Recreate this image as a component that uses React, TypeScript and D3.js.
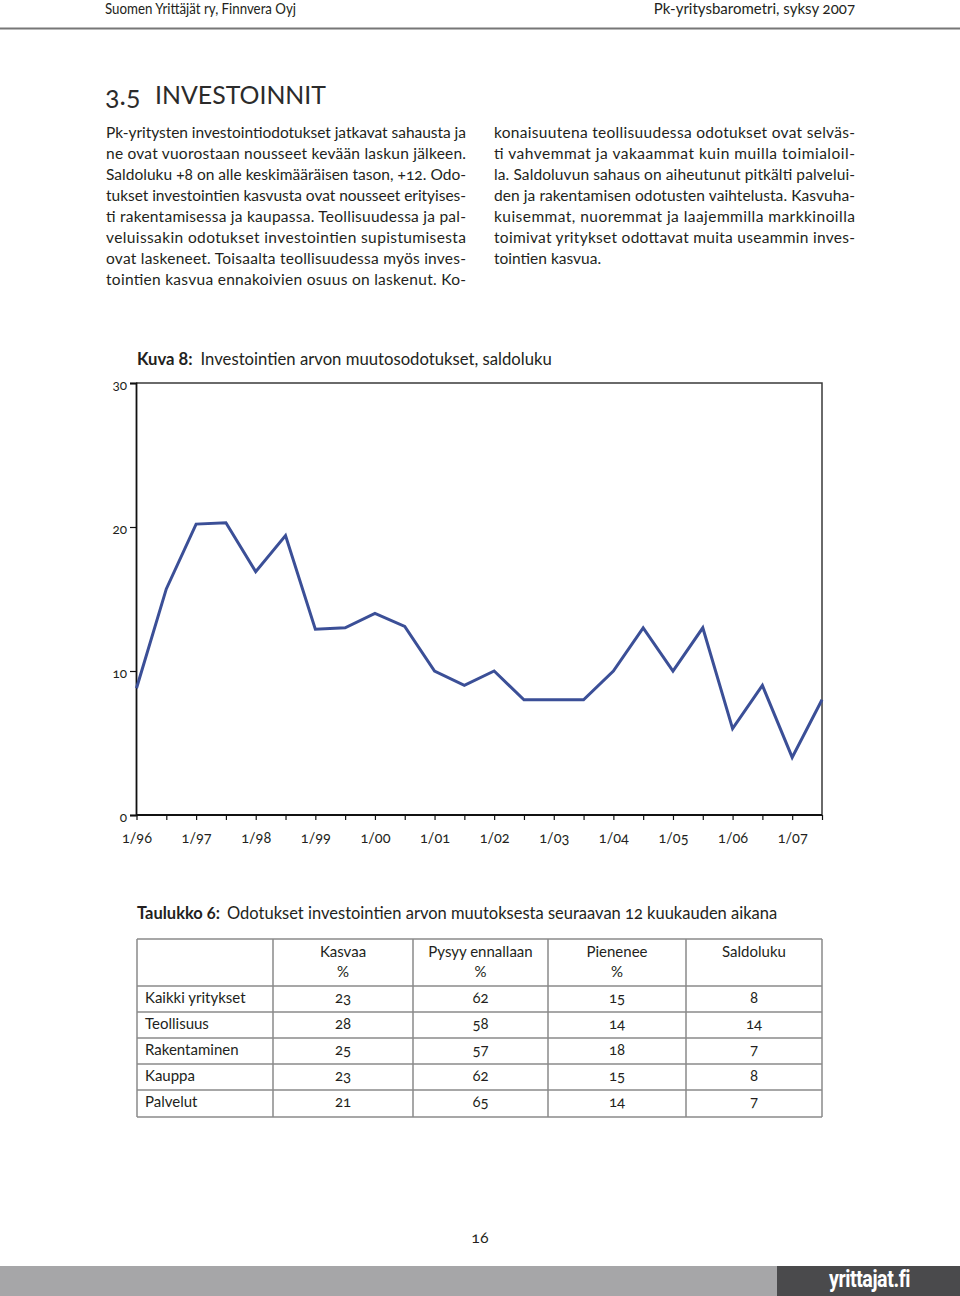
import { useEffect, useRef } from 'react'
import * as d3 from 'd3'

// Kuva 8 – saldoluku, puolivuosittain
const periods = [
  '1/96', '2/96', '1/97', '2/97', '1/98', '2/98', '1/99', '2/99',
  '1/00', '2/00', '1/01', '2/01', '1/02', '2/02', '1/03', '2/03',
  '1/04', '2/04', '1/05', '2/05', '1/06', '2/06', '1/07', '2/07',
]
const saldo = [
  8.8, 15.7, 20.2, 20.3, 16.9, 19.4, 12.9, 13.0,
  14.0, 13.1, 10.0, 9.0, 10.0, 8.0, 8.0, 8.0,
  10.0, 13.0, 10.0, 13.0, 6.0, 9.0, 4.0, 8.0,
]
const yTicks = [0, 10, 20, 30]

// Taulukko 6
const tableHeaders = [['Kasvaa', '%'], ['Pysyy ennallaan', '%'], ['Pienenee', '%'], ['Saldoluku']]
const rowLabels = ['Kaikki yritykset', 'Teollisuus', 'Rakentaminen', 'Kauppa', 'Palvelut']
const kasvaa = [23, 28, 25, 23, 21]
const pysyy = [62, 58, 57, 62, 65]
const pienenee = [15, 14, 18, 15, 14]
const saldoluku = [8, 14, 7, 8, 7]

const leftLines = [
  'Pk-yritysten investointiodotukset jatkavat sahausta ja',
  'ne ovat vuorostaan nousseet kevään laskun jälkeen.',
  'Saldoluku +8 on alle keskimääräisen tason, +12. Odo-',
  'tukset investointien kasvusta ovat nousseet erityises-',
  'ti rakentamisessa ja kaupassa. Teollisuudessa ja pal-',
  'veluissakin odotukset investointien supistumisesta',
  'ovat laskeneet. Toisaalta teollisuudessa myös inves-',
  'tointien kasvua ennakoivien osuus on laskenut. Ko-',
]
const rightLines = [
  'konaisuutena teollisuudessa odotukset ovat selväs-',
  'ti vahvemmat ja vakaammat kuin muilla toimialoil-',
  'la. Saldoluvun sahaus on aiheutunut pitkälti palvelui-',
  'den ja rakentamisen odotusten vaihtelusta. Kasvuha-',
  'kuisemmat, nuoremmat ja laajemmilla markkinoilla',
  'toimivat yritykset odottavat muita useammin inves-',
  'tointien kasvua.',
]

const FONT = 'Lato, "Open Sans", "DejaVu Sans", sans-serif'
const TEXT = '#231f20'

export default function App() {
  const chartRef = useRef<SVGGElement>(null)

  const plotLeft = 136
  const plotRight = 822
  const plotTop = 383
  const plotBottom = 815

  useEffect(() => {
    if (!chartRef.current) return
    const g = d3.select(chartRef.current)
    g.selectAll('*').remove()

    const x = d3.scalePoint(periods, [plotLeft + 0.5, plotRight])
    const y = d3.scaleLinear([0, 30], [plotBottom, plotTop])

    // frame top + right
    g.append('path')
      .attr('d', `M${plotLeft},${plotTop}H${plotRight}V${plotBottom}`)
      .attr('fill', 'none')
      .attr('stroke', '#3a3a3a')
      .attr('stroke-width', 1.5)

    // y axis
    const yAxis = d3.axisLeft(y).tickValues(yTicks).tickSize(6).tickPadding(3)
    const ya = g.append('g').attr('transform', `translate(${plotLeft},0)`).call(yAxis)
    ya.select('.domain').attr('stroke', '#111').attr('stroke-width', 1.8)
    ya.selectAll('line').attr('stroke', '#111').attr('stroke-width', 1.2)
    ya.selectAll('text')
      .attr('font-family', FONT)
      .attr('font-size', 13.5)
      .attr('fill', TEXT)
      .attr('dy', '0.45em')
      .style('font-variant-numeric', 'oldstyle-nums')

    // x axis
    const xAxis = d3
      .axisBottom(x)
      .tickSize(5)
      .tickPadding(13)
      .tickFormat((d) => (d.startsWith('1/') ? d : ''))
    const xa = g.append('g').attr('transform', `translate(0,${plotBottom})`).call(xAxis)
    xa.select('.domain')
      .attr('d', `M${plotLeft},0H${plotRight}`)
      .attr('stroke', '#111')
      .attr('stroke-width', 1.8)
    xa.selectAll('line').attr('stroke', '#111').attr('stroke-width', 1.2)
    xa.selectAll('text')
      .attr('font-family', FONT)
      .attr('font-size', 14.5)
      .attr('fill', TEXT)
      .style('font-variant-numeric', 'oldstyle-nums')

    // series
    const line = d3
      .line<number>()
      .x((_, i) => x(periods[i]) ?? 0)
      .y((d) => y(d))
    g.append('path')
      .datum(saldo)
      .attr('d', line)
      .attr('fill', 'none')
      .attr('stroke', '#3b4f97')
      .attr('stroke-width', 3)
      .attr('stroke-linejoin', 'miter')
  }, [])

  const colX = [137, 273, 413, 548, 686, 822]
  const rowY = [939, 986, 1012, 1038, 1064, 1090, 1117]
  const cols = [kasvaa, pysyy, pienenee, saldoluku]

  return (
    <svg
      width={960}
      height={1296}
      style={{ position: 'absolute', left: 0, top: 0, background: '#fff' }}
      fontFamily={FONT}
    >
      {/* header */}
      <text x={105} y={14} fontSize={15} fill={TEXT} textLength={191} lengthAdjust="spacingAndGlyphs">
        Suomen Yrittäjät ry, Finnvera Oyj
      </text>
      <text x={855} y={14} fontSize={15} fill={TEXT} textAnchor="end" style={{ fontVariantNumeric: 'oldstyle-nums' }}>
        Pk-yritysbarometri, syksy 2007
      </text>
      <line x1={0} x2={960} y1={28.5} y2={28.5} stroke="#777" strokeWidth={2} />

      {/* section title */}
      <text x={105} y={105} fontSize={27} fill="#2b2b2b" style={{ fontVariantNumeric: 'oldstyle-nums' }}>
        3.5
      </text>
      <text x={155} y={104} fontSize={25} fill="#2b2b2b" textLength={171} lengthAdjust="spacingAndGlyphs">
        INVESTOINNIT
      </text>

      {leftLines.map((t, i) => (
        <text
          key={'l' + i}
          x={106}
          y={138 + i * 21}
          fontSize={15.5}
          fill={TEXT}
          textLength={360}
          lengthAdjust="spacing"
          style={{ fontVariantNumeric: 'oldstyle-nums' }}
        >
          {t}
        </text>
      ))}
      {rightLines.map((t, i) => (
        <text
          key={'r' + i}
          x={494}
          y={138 + i * 21}
          fontSize={15.5}
          fill={TEXT}
          textLength={i < rightLines.length - 1 ? 361 : undefined}
          lengthAdjust="spacing"
        >
          {t}
        </text>
      ))}

      {/* chart */}
      <text x={137} y={365} fontSize={16.7} fill={TEXT}>
        <tspan fontWeight="bold">Kuva 8:</tspan>
        <tspan dx={8}>Investointien arvon muutosodotukset, saldoluku</tspan>
      </text>
      <g ref={chartRef} />

      {/* table */}
      <text x={137} y={919} fontSize={16.5} fill={TEXT} style={{ fontVariantNumeric: 'oldstyle-nums' }}>
        <tspan fontWeight="bold">Taulukko 6:</tspan>
        <tspan dx={7}>Odotukset investointien arvon muutoksesta seuraavan 12 kuukauden aikana</tspan>
      </text>
      <g stroke="#8a8a8a" strokeWidth={1.5}>
        {colX.map((cx) => (
          <line key={'c' + cx} x1={cx} x2={cx} y1={rowY[0]} y2={rowY[rowY.length - 1]} />
        ))}
        {rowY.map((ry) => (
          <line key={'h' + ry} x1={colX[0]} x2={colX[colX.length - 1]} y1={ry} y2={ry} />
        ))}
      </g>
      {tableHeaders.map((h, j) =>
        h.map((t, k) => (
          <text
            key={'th' + j + k}
            x={(colX[j + 1] + colX[j + 2]) / 2}
            y={957 + k * 20}
            fontSize={15}
            fill={TEXT}
            textAnchor="middle"
          >
            {t}
          </text>
        ))
      )}
      {rowLabels.map((r, i) => (
        <g key={'row' + i}>
          <text x={145} y={rowY[i + 1] + 17} fontSize={15} fill={TEXT}>
            {r}
          </text>
          {cols.map((c, j) => (
            <text
              key={j}
              x={(colX[j + 1] + colX[j + 2]) / 2}
              y={rowY[i + 1] + 17}
              fontSize={15}
              fill={TEXT}
              textAnchor="middle"
              style={{ fontVariantNumeric: 'oldstyle-nums' }}
            >
              {c[i]}
            </text>
          ))}
        </g>
      ))}

      {/* page number */}
      <text x={480} y={1243} fontSize={16} fill={TEXT} textAnchor="middle" style={{ fontVariantNumeric: 'oldstyle-nums' }}>
        16
      </text>

      {/* footer */}
      <rect x={0} y={1266} width={777} height={30} fill="#a6a6a8" />
      <rect x={777} y={1266} width={183} height={30} fill="#4a4a4c" />
      <text
        x={829}
        y={1287}
        fontSize={23}
        fontWeight="bold"
        fill="#fff"
        fontFamily='"Liberation Sans Narrow", "Roboto", sans-serif'
        textLength={81}
        lengthAdjust="spacingAndGlyphs"
        letterSpacing={-0.5}
      >
        yrittajat.fi
      </text>
    </svg>
  )
}
